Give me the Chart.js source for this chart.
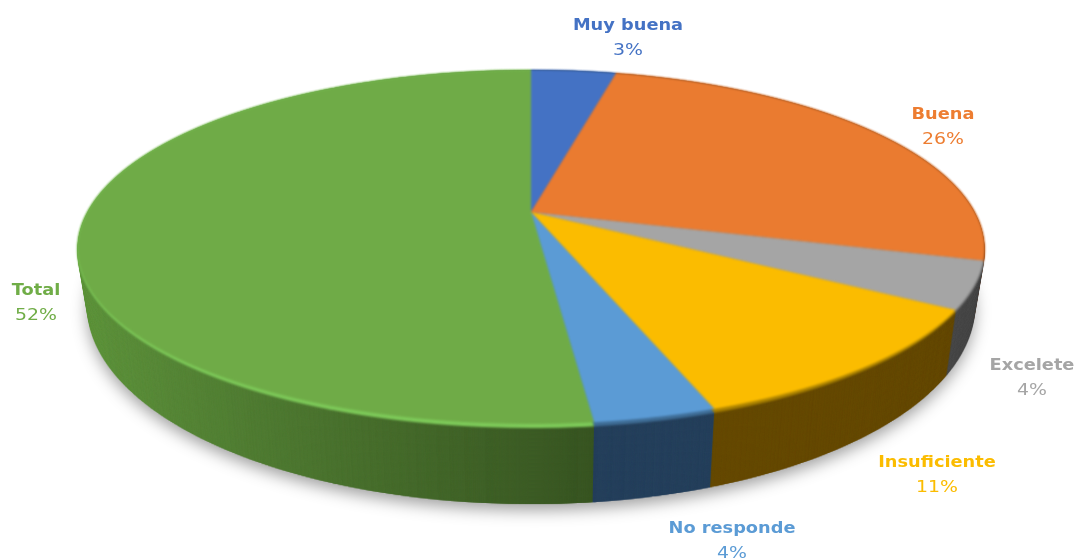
<!DOCTYPE html>
<html>
<head>
<meta charset="utf-8">
<title>Pie 3D</title>
<script src="https://cdn.jsdelivr.net/npm/chart.js@4"></script>
<style>
    html, body { margin: 0; padding: 0; background: #ffffff; }
    #chart-container { position: relative; width: 1076px; height: 559px; }
    #pie { filter: blur(0.4px); }
</style>
</head>
<body>
<div id="chart-container"><canvas id="pie"></canvas></div>
<script>
const categories = ["Muy buena", "Buena", "Excelete", "Insuficiente", "No responde", "Total"];
const sliceValues = [3.7, 25.7, 4.3, 10.9, 3.6, 51.8];
const percentLabels = ["3%", "26%", "4%", "11%", "4%", "52%"];
const faceColors = ["#4472C4", "#EA7B30", "#A5A5A5", "#FBBC00", "#5B9BD5", "#6FAB47"];
const rimColors = ["#35598f", "#a4561f", "#6f6f6f", "#a88000", "#3f6d96", "#7ECB5A"];
const sideColors = ["#26405f", "#7a3f16", "#4a4a4a", "#664a00", ["#2a4a6c", "#25405c"], ["#639a40", "#385522"]];
const labelColors = ["#4472C4", "#ED7D31", "#A5A5A5", "#FBBC00", "#5B9BD5", "#70AD47"];

// centre of each label block on the page (name line, percent line goes below)
const labelSpots = [[628, 25], [943, 114], [1032, 365], [937, 462], [732, 528], [36, 290]];

// perspective of the pie's silhouette
const apexX = 531;
const apexY = 212;
const spanX = 443.7;
const spanY = 171.35;
const tilt = 0.2067;
// the lower half of the top face stops short of the silhouette, this leaves the bevel
const frontSquash = 0.981;

// draws the arcs on ctx through a perspective, one pixel row at a time
function paintFace(ctx, arcs, colorAt) {
    const R = arcs[0].outerRadius;
    const cx = arcs[0].x;
    const cy = arcs[0].y;
    arcs.forEach((arc, i) => {
        const saved = arc.options;
        arc.options = Object.assign({}, saved, { backgroundColor: colorAt(ctx, i, cx, R), borderWidth: 0 });
        for (let y = 66; y < 434; y++) {
            const dy = y + 0.5 - apexY;
            const v = dy / (spanY + tilt * dy);
            const w = 1 / (1 - tilt * v);
            const sx = spanX * w / R;
            const sy = spanY * w * w / R;
            ctx.save();
            ctx.beginPath();
            ctx.rect(0, y, ctx.canvas.width, 1);
            ctx.clip();
            ctx.setTransform(sx, 0, 0, sy, apexX - sx * cx, y + 0.5 - sy * (cy + v * R));
            arc.draw(ctx);
            ctx.restore();
        }
        arc.options = saved;
    });
}

function newLayer(chart) {
    const layer = document.createElement("canvas");
    layer.width = chart.width;
    layer.height = chart.height;
    return layer;
}

// f = 0 is the top face, f = 1 the bottom rim of the cylinder
function placeLayer(ctx, layer, f) {
    const sx = 1 - 0.022 * f;
    const sy = 1 + 0.109 * f;
    ctx.setTransform(sx, 0, 0, sy, apexX * (1 - sx), f * 56 + 245 * (1 - sy));
    ctx.drawImage(layer, 0, 0);
}

const pie3d = {
    id: "pie3d",
    beforeDatasetsDraw(chart) {
        const ctx = chart.ctx;
        const arcs = chart.getDatasetMeta(0).data;
        const W = chart.width;
        const H = chart.height;

        const side = newLayer(chart);
        paintFace(side.getContext("2d"), arcs, (c, i, cx, R) => {
            const color = sideColors[i];
            if (!Array.isArray(color)) return color;
            const grad = c.createLinearGradient(cx - R, 0, cx + 32, 0);
            grad.addColorStop(0, color[0]);
            grad.addColorStop(1, color[1]);
            return grad;
        });
        const rim = newLayer(chart);
        paintFace(rim.getContext("2d"), arcs, (c, i) => rimColors[i]);
        const flat = newLayer(chart);
        paintFace(flat.getContext("2d"), arcs, (c, i) => faceColors[i]);

        const top = newLayer(chart);
        const topCtx = top.getContext("2d");
        topCtx.drawImage(flat, 0, 0, W, apexY, 0, 0, W, apexY);
        topCtx.drawImage(flat, 0, apexY, W, H - apexY, 0, apexY, W, (H - apexY) * frontSquash);

        ctx.save();
        // soft shadow only under the bottom rim
        ctx.shadowColor = "rgba(0, 0, 0, 0.38)";
        ctx.shadowBlur = 16;
        ctx.shadowOffsetY = 6;
        placeLayer(ctx, side, 1);
        ctx.shadowColor = "transparent";
        ctx.shadowBlur = 0;
        ctx.shadowOffsetY = 0;

        for (let f = 1; f >= 0; f -= 0.007) placeLayer(ctx, side, f);
        ctx.filter = "blur(0.8px)";
        placeLayer(ctx, rim, 0);
        placeLayer(ctx, top, 0);
        ctx.filter = "none";
        ctx.restore();
        return false;
    },
    afterDraw(chart) {
        const ctx = chart.ctx;
        ctx.save();
        ctx.textAlign = "center";
        ctx.textBaseline = "middle";
        categories.forEach((name, i) => {
            const [x, y] = labelSpots[i];
            ctx.fillStyle = labelColors[i];
            ctx.setTransform(1.11, 0, 0, 1, x, y + 1);
            ctx.font = 'bold 16px "DejaVu Sans"';
            ctx.fillText(name, 0, 0);
            ctx.setTransform(1.18, 0, 0, 1, x, y + 26);
            ctx.font = '16px "DejaVu Sans"';
            ctx.fillText(percentLabels[i], 0, 0);
        });
        ctx.restore();
    },
};

new Chart(document.getElementById("pie"), {
    type: "pie",
    data: {
        labels: categories,
        datasets: [{
            data: sliceValues,
            backgroundColor: faceColors,
            borderWidth: 0,
        }],
    },
    options: {
        responsive: true,
        maintainAspectRatio: false,
        animation: false,
        plugins: {
            legend: { display: false },
            tooltip: { enabled: false },
        },
    },
    plugins: [pie3d],
});
</script>
</body>
</html>
